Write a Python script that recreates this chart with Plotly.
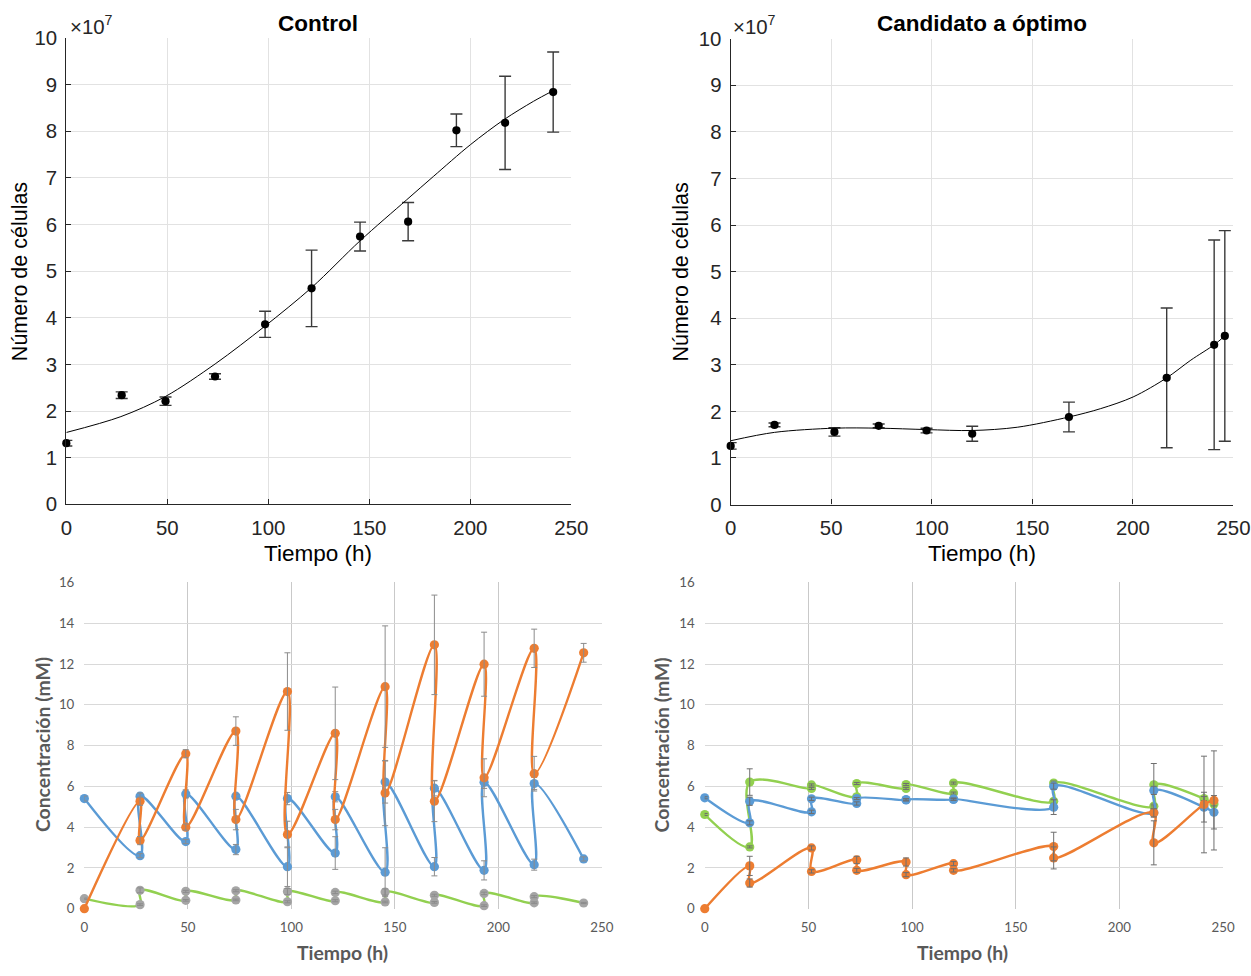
import plotly.graph_objects as go

W, H = 1251, 976
# The captured picture maps figure pixel F to picture pixel R = O + S*F;
# layout positions below are given in target-picture pixels and converted.
SX, OX = 0.981, 6.0
SY, OY = 0.9755, 11.4
K = 1.0 / 0.978  # size compensation for fonts / markers

# ---------------- Data: top-left (Control) cell counts, units of 1e7 ----------------
t_ctrl = [0, 27.4, 49.1, 73.6, 98.4, 121.4, 145.4, 169.2, 193.1, 217.2, 241.0]
cells_ctrl = [1.31, 2.34, 2.21, 2.74, 3.86, 4.63, 5.74, 6.06, 8.02, 8.18, 8.84]
err_ctrl = [0.06, 0.07, 0.09, 0.06, 0.28, 0.82, 0.31, 0.41, 0.35, 1.00, 0.86]
fit_t_ctrl = [0, 27, 49, 74, 98, 121.5, 145.4, 168.5, 181.7, 200, 216.7, 231.2, 241]
fit_y_ctrl = [1.54, 1.88, 2.31, 3.02, 3.81, 4.65, 5.65, 6.53, 7.03, 7.71, 8.25, 8.64, 8.87]

# ---------------- Data: top-right (Candidato a óptimo) ----------------
t_opt = [0, 21.8, 51.6, 73.6, 97.4, 120.1, 168.2, 216.8, 240.4, 245.7]
cells_opt = [1.26, 1.71, 1.56, 1.69, 1.59, 1.52, 1.88, 2.72, 3.43, 3.62]
err_opt = [0.07, 0.04, 0.09, 0.04, 0.05, 0.16, 0.32, 1.50, 2.25, 2.26]
fit_t_opt = [0, 21.8, 51.6, 73.6, 97.4, 120.1, 142.5, 168.2, 184, 200.1, 216.8, 228.8, 240.4, 245.7]
fit_y_opt = [1.37, 1.55, 1.64, 1.64, 1.61, 1.59, 1.66, 1.88, 2.06, 2.31, 2.72, 3.10, 3.43, 3.62]

# ---------------- Data: bottom-left concentrations (mM) ----------------
t_bl = [0, 26.9, 26.9, 49.0, 49.0, 73.2, 73.2, 98.1, 98.1, 121.2, 121.2,
        145.3, 145.3, 169.1, 169.1, 193.1, 193.1, 217.3, 217.3, 241.2]
blue_bl = [5.40, 2.60, 5.52, 3.29, 5.63, 2.90, 5.52, 2.06, 5.40, 2.73, 5.49,
           1.79, 6.21, 2.06, 5.91, 1.88, 6.20, 2.16, 6.14, 2.44]
blue_bl_err = [0.12, 0.10, 0.15, 0.10, 0.20, 0.25, 0.10, 0.97, 0.30, 0.80, 0.25,
               1.20, 1.03, 0.45, 0.38, 0.47, 0.30, 0.27, 0.30, 0.10]
orange_bl = [0.00, 5.27, 3.34, 7.60, 4.00, 8.71, 4.37, 10.65, 3.64, 8.60, 4.37,
             10.89, 5.67, 12.94, 5.27, 11.99, 6.42, 12.77, 6.62, 12.55]
orange_bl_err = [0.00, 0.20, 0.20, 0.20, 0.15, 0.70, 0.50, 1.90, 0.65, 2.27, 0.50,
                 2.98, 1.60, 2.44, 1.00, 1.57, 0.93, 0.94, 0.85, 0.46]
green_bl = [0.49, 0.20, 0.90, 0.41, 0.85, 0.43, 0.88, 0.34, 0.84, 0.39, 0.80,
            0.33, 0.82, 0.31, 0.66, 0.15, 0.75, 0.29, 0.59, 0.28]
green_bl_err = [0.03, 0.04, 0.12, 0.04, 0.05, 0.04, 0.05, 0.05, 0.15, 0.05, 0.06,
                0.04, 0.15, 0.04, 0.05, 0.04, 0.06, 0.04, 0.05, 0.03]

# ---------------- Data: bottom-right concentrations (mM) ----------------
t_br = [0, 21.7, 21.7, 51.5, 51.5, 73.3, 73.3, 97.1, 97.1, 120.0, 120.0,
        168.3, 168.3, 216.6, 216.6, 240.8, 245.6]
blue_br = [5.44, 4.21, 5.27, 4.75, 5.39, 5.16, 5.40, 5.33, 5.35, 5.36, 5.38,
           4.98, 6.01, 4.70, 5.80, 4.98, 4.73]
blue_br_err = [0.05, 0.10, 0.20, 0.08, 0.08, 0.08, 0.05, 0.05, 0.05, 0.05, 0.05,
               0.36, 0.15, 0.20, 0.20, 0.73, 0.82]
orange_br = [0.00, 2.10, 1.26, 2.98, 1.83, 2.39, 1.88, 2.29, 1.67, 2.21, 1.88,
             3.05, 2.49, 4.70, 3.23, 5.11, 5.31]
orange_br_err = [0.00, 0.47, 0.20, 0.10, 0.08, 0.18, 0.10, 0.20, 0.10, 0.10, 0.08,
                 0.70, 0.54, 0.20, 1.08, 2.37, 2.43]
green_br = [4.62, 3.03, 6.21, 5.90, 6.07, 5.49, 6.14, 5.90, 6.09, 5.67, 6.16,
            5.27, 6.16, 5.03, 6.08, 5.40, 5.14]
green_br_err = [0.05, 0.05, 0.65, 0.05, 0.05, 0.05, 0.05, 0.05, 0.05, 0.05, 0.05,
                0.10, 0.10, 0.10, 1.04, 0.10, 0.10]

BLUE = "#5B9BD5"
ORANGE = "#ED7D31"
GREEN = "#92D050"
GRAY = "#A5A5A5"

TOP_FONT = "Liberation Sans, Arial, sans-serif"
BOT_FONT = "Lato, Open Sans, sans-serif"


def fx(p):
    return ((p - OX) / SX) / W


def fy(p):
    return 1 - ((p - OY) / SY) / H


def sz(v):
    return round(v * K, 1)


fig = go.Figure()

# ---------- Top panels ----------
for ax, (t, c, e, ft, fyv) in zip(
    ["", "2"],
    [(t_ctrl, cells_ctrl, err_ctrl, fit_t_ctrl, fit_y_ctrl),
     (t_opt, cells_opt, err_opt, fit_t_opt, fit_y_opt)],
):
    fig.add_trace(go.Scatter(
        x=t, y=c, mode="markers", xaxis="x" + ax, yaxis="y" + ax,
        marker=dict(color="black", size=sz(8)),
        error_y=dict(type="data", array=e, color="#3a3a3a", thickness=1.4, width=6),
        cliponaxis=False, showlegend=False,
    ))
    fig.add_trace(go.Scatter(
        x=ft, y=fyv, mode="lines", xaxis="x" + ax, yaxis="y" + ax,
        line=dict(color="black", width=1, shape="spline", smoothing=0.9),
        showlegend=False,
    ))


# ---------- Bottom panels ----------
def add_series(t, y, err, color, mcolor, ax, ecolor):
    fig.add_trace(go.Scatter(
        x=t, y=y, mode="lines+markers", xaxis="x" + ax, yaxis="y" + ax,
        line=dict(color=color, width=2.4, shape="spline", smoothing=1.0),
        marker=dict(color=mcolor, size=sz(9), line=dict(width=0)),
        cliponaxis=False, showlegend=False,
    ))
    xs = [a for a, b in zip(t, err) if b > 0]
    ys = [a for a, b in zip(y, err) if b > 0]
    es = [b for b in err if b > 0]
    fig.add_trace(go.Scatter(
        x=xs, y=ys, mode="markers", xaxis="x" + ax, yaxis="y" + ax,
        marker=dict(size=1, color="rgba(0,0,0,0)"),
        error_y=dict(type="data", array=es, color=ecolor, thickness=1, width=3),
        showlegend=False, hoverinfo="skip",
    ))


add_series(t_bl, green_bl, green_bl_err, GREEN, GRAY, "3", "#8c8c8c")
add_series(t_bl, blue_bl, blue_bl_err, BLUE, BLUE, "3", "#8c8c8c")
add_series(t_bl, orange_bl, orange_bl_err, ORANGE, ORANGE, "3", "#8c8c8c")

add_series(t_br, green_br, green_br_err, GREEN, GREEN, "4", "#6f6f6f")
add_series(t_br, blue_br, blue_br_err, BLUE, BLUE, "4", "#6f6f6f")
add_series(t_br, orange_br, orange_br_err, ORANGE, ORANGE, "4", "#6f6f6f")

top_x = dict(range=[0, 250], tickvals=[0, 50, 100, 150, 200, 250], showline=True,
             linecolor="#262626", linewidth=1.2, ticks="inside", ticklen=5,
             tickcolor="#262626", showgrid=True, gridcolor="#e2e2e2", gridwidth=1,
             zeroline=False, tickfont=dict(family=TOP_FONT, size=sz(20), color="#262626"),
             ticklabelstandoff=5)
top_y = dict(range=[0, 10], tickvals=list(range(0, 11)), showline=True,
             linecolor="#262626", linewidth=1.2, ticks="inside", ticklen=5,
             tickcolor="#262626", showgrid=True, gridcolor="#e2e2e2", gridwidth=1,
             zeroline=False, tickfont=dict(family=TOP_FONT, size=sz(20), color="#262626"),
             ticklabelstandoff=4)
bot_x = dict(range=[0, 250], tickvals=[0, 50, 100, 150, 200, 250], showline=False,
             ticks="", showgrid=True, gridcolor="#c9c9c9", gridwidth=1, zeroline=False,
             tickfont=dict(family=BOT_FONT, size=sz(13), color="#595959"),
             ticklabelstandoff=9)
bot_y = dict(range=[0, 16], tickvals=list(range(0, 17, 2)), showline=False,
             ticks="", showgrid=True, gridcolor="#d9d9d9", gridwidth=1, zeroline=False,
             tickfont=dict(family=BOT_FONT, size=sz(13), color="#595959"),
             ticklabelstandoff=9)

fig.update_layout(
    width=W, height=H, margin=dict(l=0, r=0, t=0, b=0),
    paper_bgcolor="white", plot_bgcolor="white", showlegend=False,
    xaxis=dict(domain=[fx(66.3), fx(571)], anchor="y", **top_x),
    yaxis=dict(domain=[fy(503.7), fy(38.3)], anchor="x", **top_y),
    xaxis2=dict(domain=[fx(730.2), fx(1232.7)], anchor="y2", **top_x),
    yaxis2=dict(domain=[fy(504), fy(39)], anchor="x2", **top_y),
    xaxis3=dict(domain=[fx(84.3), fx(601.5)], anchor="y3", **bot_x),
    yaxis3=dict(domain=[fy(907.3), fy(581.7)], anchor="x3", **bot_y),
    xaxis4=dict(domain=[fx(704.3), fx(1222.3)], anchor="y4", **bot_x),
    yaxis4=dict(domain=[fy(907.3), fy(581.7)], anchor="x4", **bot_y),
)

ann = []


def text(x, y, s, size, family, color, bold=False, angle=0, xanchor="center"):
    ann.append(dict(x=fx(x), y=fy(y), xref="paper", yref="paper", text=("<b>%s</b>" % s) if bold else s,
                    showarrow=False, xanchor=xanchor, yanchor="middle", textangle=angle,
                    font=dict(family=family, size=sz(size), color=color)))


# Top titles
text(318, 24, "Control", 22, TOP_FONT, "black", bold=True)
text(981, 24, "Candidato a óptimo", 22, TOP_FONT, "black", bold=True)
text(318, 553, "Tiempo (h)", 22, TOP_FONT, "black")
text(981, 553, "Tiempo (h)", 22, TOP_FONT, "black")
text(20, 272, "Número de células", 21, TOP_FONT, "black", angle=-90)
text(681, 272, "Número de células", 21, TOP_FONT, "black", angle=-90)
text(68, 25, "×10<sup>7</sup>", 20, TOP_FONT, "#262626", xanchor="left")
text(731, 25, "×10<sup>7</sup>", 20, TOP_FONT, "#262626", xanchor="left")

# Bottom titles
text(342, 951, "Tiempo (h)", 19, BOT_FONT, "#595959", bold=True)
text(962, 951, "Tiempo (h)", 19, BOT_FONT, "#595959", bold=True)
text(42, 744, "Concentración (mM)", 19, BOT_FONT, "#595959", bold=True, angle=-90)
text(661, 744, "Concentración (mM)", 19, BOT_FONT, "#595959", bold=True, angle=-90)

fig.update_layout(annotations=ann)

fig.write_html("out.html")
